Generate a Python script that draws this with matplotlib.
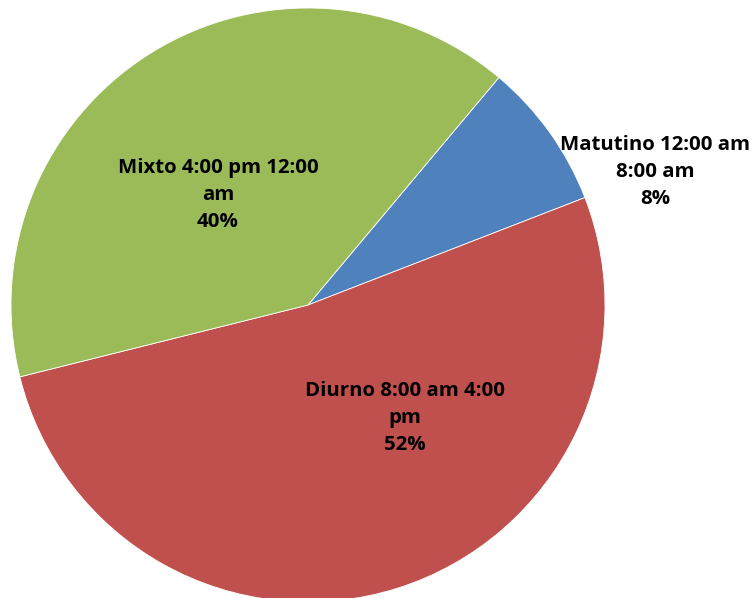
import matplotlib.pyplot as plt

# data
labels = ["Matutino 12:00 am\n8:00 am", "Diurno 8:00 am 4:00\npm", "Mixto 4:00 pm 12:00\nam"]
values = [8, 52, 40]
colors = ["#4F81BD", "#C0504D", "#9BBB59"]

# label centers in pixel coords (x, y from top)
label_pos = [(655, 172), (405, 418), (218, 195)]

W, H = 754, 598

def main():
    fig = plt.figure(figsize=(W / 100, H / 100), dpi=100)
    ax = fig.add_axes([0, 0, 1, 1])

    ax.pie(values, colors=colors, startangle=50, counterclock=False,
           center=(308, H - 305), radius=297, frame=True,
           wedgeprops=dict(edgecolor="white", linewidth=0.6))
    ax.set_xlim(0, W)
    ax.set_ylim(0, H)
    ax.set_aspect("equal")
    ax.axis("off")

    total = sum(values)
    for lab, v, (x, y) in zip(labels, values, label_pos):
        ax.text(x, H - y, f"{lab}\n{round(100 * v / total)}%", ha="center", va="center",
                fontsize=14.7, fontweight="bold", family=["Open Sans", "DejaVu Sans"],
                linespacing=1.45)

    fig.savefig("out.png", dpi=100)

if __name__ == "__main__":
    main()
